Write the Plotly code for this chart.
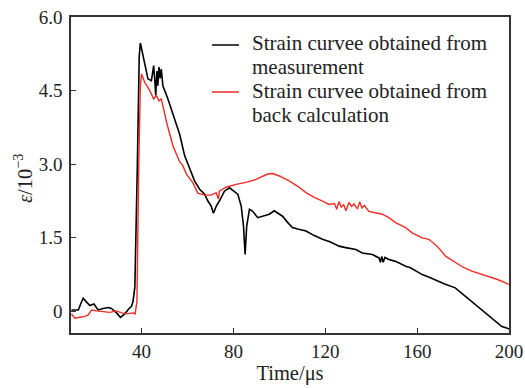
import plotly.graph_objects as go

# ---- data ----
meas_t = [9.5, 12.5, 13.5, 14.6, 16.1, 17.5, 19.3, 21.1, 23.3, 25.5, 26.9, 29.1, 30.8, 32.7, 34.6, 35.6,
          36.3, 37.1, 38.2, 39.0, 39.5, 40.3, 41.4, 42.8, 44.3, 45.0, 45.3, 45.8, 46.2, 46.7, 47.1, 47.6,
          48.1, 48.6, 49.3, 51.5, 54.4, 56.6, 58.8, 61.0, 63.1, 65.3, 67.5, 68.9, 70.3, 71.3, 72.5, 73.9,
          76.1, 78.3, 80.4, 81.9, 83.4, 84.4, 85.1, 85.8, 87.0, 88.4, 90.6, 92.7, 95.6, 97.8, 99.5, 101.4,
          103.5, 105.7, 108.0, 111.6, 115.0, 118.8, 122.0, 126.0, 128.9, 133.3, 136.1, 140.5, 143.4, 144.0,
          144.6, 145.2, 146.0, 147.7, 150.6, 155.0, 157.1, 162.2, 165.0, 169.4, 172.0, 176.6, 180.0, 183.8,
          187.0, 191.1, 194.0, 196.9, 199.0, 200.0]
meas_e = [0.03, 0.03, 0.15, 0.27, 0.19, 0.12, 0.15, 0.03, 0.06, 0.08, 0.06, -0.03, -0.12, -0.05, 0.06, 0.10,
          0.20, 0.50, 3.00, 5.20, 5.47, 5.30, 5.08, 4.74, 4.70, 4.95, 5.01, 4.70, 4.40, 4.90, 4.60, 4.98,
          4.75, 4.94, 4.60, 4.33, 3.92, 3.61, 3.17, 2.90, 2.66, 2.49, 2.39, 2.25, 2.15, 2.00, 2.14, 2.25,
          2.45, 2.52, 2.45, 2.39, 2.15, 1.74, 1.16, 1.74, 2.08, 2.04, 1.91, 1.94, 1.98, 2.05, 2.00, 1.94,
          1.82, 1.71, 1.68, 1.64, 1.55, 1.47, 1.42, 1.33, 1.30, 1.26, 1.19, 1.16, 1.09, 1.00,
          1.12, 1.00, 1.10, 1.06, 1.02, 0.92, 0.89, 0.75, 0.70, 0.61, 0.56, 0.48, 0.35, 0.20,
          0.08, -0.07, -0.18, -0.31, -0.34, -0.36]

calc_t = [9.5, 11.0, 13.2, 15.4, 16.8, 18.3, 20.4, 23.3, 26.2, 29.1, 31.3, 33.5, 36.3, 37.2, 38.0, 38.8,
          39.5, 40.0, 41.4, 43.6, 45.3, 46.5, 47.6, 48.6, 50.1, 51.1, 53.7, 56.6, 58.0, 59.5, 62.4, 64.5,
          67.5, 70.3, 72.5, 73.5, 73.9, 76.8, 81.2, 85.5, 89.9, 94.9, 97.1, 100.0, 104.3, 108.0, 111.6,
          115.0, 118.8, 121.7, 124.0, 125.0, 126.0, 127.0, 128.0, 129.0, 130.3, 131.5, 132.5, 134.0,
          135.0, 136.0, 137.0, 139.0, 144.8, 147.7, 150.6, 155.0, 157.8, 162.2, 165.1, 168.7, 172.5,
          176.6, 180.0, 183.8, 187.0, 191.1, 195.0, 199.0, 200.0]
calc_e = [-0.05, -0.14, -0.12, -0.10, -0.07, 0.03, 0.01, 0.00, -0.02, 0.01, -0.03, -0.05, -0.03, -0.05, 0.20, 3.00,
          4.60, 4.84, 4.67, 4.50, 4.33, 4.40, 4.29, 4.33, 4.02, 3.82, 3.37, 3.05, 2.97, 2.80, 2.62, 2.41,
          2.37, 2.37, 2.42, 2.29, 2.45, 2.53, 2.59, 2.63, 2.69, 2.80, 2.81, 2.76, 2.66, 2.55, 2.42,
          2.33, 2.25, 2.18, 2.20, 2.08, 2.24, 2.12, 2.18, 2.05, 2.22, 2.14, 2.19, 2.09,
          2.23, 2.11, 2.16, 2.04, 1.98, 1.91, 1.81, 1.71, 1.60, 1.50, 1.47, 1.33, 1.12,
          0.99, 0.90, 0.82, 0.77, 0.72, 0.65, 0.57, 0.55]

x_ticks = [40, 80, 120, 160, 200]
y_ticks = [0, 1.5, 3.0, 4.5, 6.0]
y_tick_text = ["0", "1.5", "3.0", "4.5", "6.0"]
legend_lines = [["Strain curvee obtained from", "measurement"],
                ["Strain curvee obtained from", "back calculation"]]
colors = ["#000000", "#ee2b24"]

FONT = "Liberation Serif"
TXT = "#222222"
AX = "#333333"

W, H = 525, 388
ML, MR, MT, MB = 71, 16, 17, 55
PW, PH = W - ML - MR, H - MT - MB


def px_x(p):
    return (p - ML) / PW


def px_y(p):
    return (H - MB - p) / PH


fig = go.Figure()
fig.add_trace(go.Scatter(x=meas_t, y=meas_e, mode="lines", name=" ".join(legend_lines[0]),
                         line=dict(color=colors[0], width=1.6), showlegend=False))
fig.add_trace(go.Scatter(x=calc_t, y=calc_e, mode="lines", name=" ".join(legend_lines[1]),
                         line=dict(color=colors[1], width=1.4), showlegend=False))

axis_common = dict(showgrid=False, zeroline=False, showline=True, linecolor=AX, linewidth=1.5,
                   mirror=True, ticks="inside", ticklen=5, tickwidth=1.2, tickcolor=AX,
                   tickfont=dict(family=FONT, size=19, color=TXT))

fig.update_xaxes(range=[9.3, 200], tickvals=x_ticks, ticklabelstandoff=0,
                 title=dict(text="Time/μs", font=dict(family=FONT, size=20.5, color=TXT), standoff=5),
                 **axis_common)
fig.update_yaxes(range=[-0.44, 6.0], tickvals=y_ticks, ticktext=y_tick_text, ticklabelstandoff=3,
                 **axis_common)

# y-axis title placed as rotated text
fig.add_annotation(text="<i>ε</i>/10<sup>−3</sup>", xref="paper", yref="paper",
                   x=px_x(23), y=px_y(178), xanchor="center", yanchor="middle",
                   textangle=-90, showarrow=False, font=dict(family=FONT, size=20.5, color=TXT))

# legend drawn as key lines + text lines
key_y = [45, 92]
text_y = [[42.5, 67], [91, 114.5]]
for i in range(2):
    fig.add_shape(type="line", xref="paper", yref="paper",
                  x0=px_x(212), x1=px_x(239), y0=px_y(key_y[i]), y1=px_y(key_y[i]),
                  line=dict(color=colors[i], width=1.5))
    for j, t in enumerate(legend_lines[i]):
        fig.add_annotation(text=t, xref="paper", yref="paper", x=px_x(250), y=px_y(text_y[i][j]),
                           xanchor="left", yanchor="middle", showarrow=False,
                           font=dict(family=FONT, size=21, color=TXT))

fig.update_layout(
    width=W, height=H,
    margin=dict(l=ML, r=MR, t=MT, b=MB, autoexpand=False),
    plot_bgcolor="white", paper_bgcolor="white",
    font=dict(family=FONT, color=TXT),
    showlegend=False,
)

fig.write_html("out.html")
